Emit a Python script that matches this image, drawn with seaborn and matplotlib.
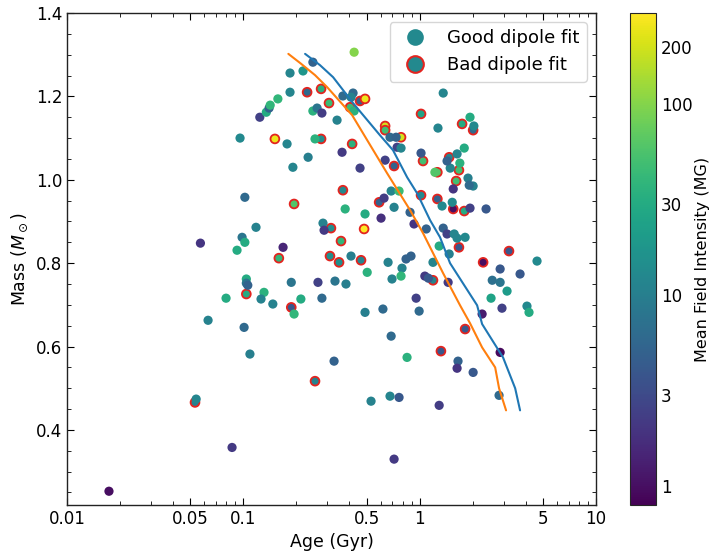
import numpy as np
import pandas as pd
import matplotlib
matplotlib.use("Agg")
import matplotlib.pyplot as plt
from matplotlib.colors import LogNorm
from matplotlib.lines import Line2D
from matplotlib.ticker import FixedLocator, FixedFormatter, LogLocator, NullFormatter
import seaborn as sns

# ---------------- data ----------------
good_age = [0.0173, 0.0863, 0.0540, 0.0631, 0.101, 0.109, 0.0798, 0.104, 0.104, 0.106,
            0.131, 0.126, 0.147, 0.187, 0.194, 0.212, 0.265, 0.331, 0.382, 0.279,
            0.490, 0.619, 0.955, 0.993, 0.689, 0.327, 0.848, 1.65, 1.63, 2.01,
            0.530, 0.679, 0.764, 1.29, 0.716, 2.82, 2.86, 2.26, 2.93, 4.06,
            4.17, 2.54, 3.13, 2.58, 2.86, 3.71, 2.86, 4.63, 1.47, 1.29,
            1.36, 1.43, 1.57, 1.63, 1.81, 1.09, 0.929, 0.604, 0.490, 0.378,
            0.283, 0.287, 0.408, 0.504, 0.662, 0.837, 0.893, 0.794, 0.697, 0.784,
            1.19, 1.07, 1.12, 1.45, 0.118, 0.0984, 0.102, 0.0571, 0.0921, 0.168,
            0.102, 0.191, 0.233, 0.0958, 0.177, 0.124, 0.135, 0.140, 0.142, 0.157,
            0.184, 0.184, 0.218, 0.248, 0.425, 0.248, 0.262, 0.279, 0.340, 0.367,
            0.419, 0.408, 0.425, 0.255, 0.363, 0.459, 0.679, 0.735, 0.745, 0.784,
            0.637, 1.36, 1.27, 1.018, 1.22, 0.628, 0.689, 0.764, 0.716, 0.882,
            1.34, 1.53, 1.93, 2.38, 1.55, 1.88, 2.01, 1.91, 1.69, 1.49,
            1.43, 1.63, 1.79, 1.93, 2.03]
good_mass = [0.253, 0.358, 0.474, 0.663, 0.646, 0.582, 0.716, 0.762, 0.752, 0.747,
             0.730, 0.714, 0.702, 0.754, 0.678, 0.714, 0.754, 0.757, 0.750, 0.716,
             0.682, 0.690, 0.716, 0.685, 0.625, 0.565, 0.574, 0.565, 0.548, 0.538,
             0.469, 0.481, 0.478, 0.459, 0.330, 0.483, 0.586, 0.678, 0.692, 0.697,
             0.682, 0.716, 0.733, 0.759, 0.754, 0.774, 0.786, 0.805, 0.822, 0.841,
             0.884, 0.870, 0.870, 0.860, 0.862, 0.882, 0.894, 0.908, 0.918, 0.930,
             0.896, 0.879, 0.817, 0.778, 0.802, 0.810, 0.817, 0.788, 0.762, 0.769,
             0.802, 0.769, 0.764, 0.754, 0.886, 0.862, 0.850, 0.848, 0.831, 0.838,
             0.958, 1.030, 1.054, 1.100, 1.086, 1.150, 1.162, 1.172, 1.179, 1.194,
             1.210, 1.256, 1.261, 1.282, 1.306, 1.165, 1.172, 1.160, 1.143, 1.201,
             1.208, 1.198, 1.165, 1.098, 1.066, 1.028, 1.102, 1.102, 1.078, 1.076,
             1.047, 1.208, 1.124, 1.064, 1.018, 0.956, 0.973, 0.973, 0.934, 0.922,
             0.937, 0.946, 0.932, 0.930, 0.978, 1.004, 0.985, 0.987, 1.040, 1.028,
             1.045, 1.062, 1.076, 1.150, 1.129]
good_field = [1.0, 2.2, 12, 11, 6, 10, 30, 30, 8, 5,
              35, 11, 11, 8, 40, 30, 2.5, 8, 10, 6,
              10, 6, 2.5, 6, 6, 5, 35, 5, 2, 4,
              11, 12, 4, 2.3, 2.2, 6, 0.9, 1.3, 2.5, 13,
              30, 25, 20, 7, 8, 4, 4, 13, 10, 30,
              5, 2.5, 12, 12, 13, 5, 2, 1.8, 30, 35,
              11, 2.2, 10, 35, 11, 5, 5, 11, 11, 40,
              12, 2.2, 4, 2.2, 11, 8, 30, 2, 30, 1.5,
              6, 12, 10, 13, 12, 2.5, 30, 5, 40, 40,
              12, 12, 18, 5, 100, 35, 8, 2.3, 11, 6,
              6, 11, 35, 35, 2.2, 2.5, 6, 5, 2.5, 12,
              2.5, 12, 12, 4, 60, 2.3, 12, 45, 11, 5,
              13, 13, 2.5, 4, 2, 10, 11, 6, 35, 12,
              5, 12, 30, 30, 13]

bad_age = [0.0532, 0.104, 0.187, 0.255, 1.32, 1.81, 2.29, 3.21, 1.67, 0.484,
           0.314, 0.358, 0.310, 0.349, 0.465, 1.19, 0.159, 0.194, 0.151, 0.230,
           0.276, 0.306, 0.403, 0.459, 0.490, 0.276, 0.414, 0.637, 0.637, 0.784,
           0.716, 1.018, 1.045, 1.26, 0.367, 0.589, 1.018, 1.26, 1.55, 1.79,
           1.61, 1.67, 1.47, 1.74, 2.01]
bad_mass = [0.466, 0.726, 0.694, 0.517, 0.589, 0.642, 0.802, 0.829, 0.838, 0.882,
            0.884, 0.853, 0.817, 0.802, 0.807, 0.759, 0.812, 0.942, 1.098, 1.210,
            1.218, 1.184, 1.174, 1.189, 1.194, 1.098, 1.086, 1.129, 1.119, 1.102,
            1.033, 1.158, 1.045, 1.018, 0.975, 0.946, 0.963, 0.954, 0.930, 0.925,
            0.997, 1.023, 1.054, 1.134, 1.119]
bad_field = [10, 30, 4, 11, 4, 4, 1.0, 4, 4, 300,
             15, 40, 15, 15, 12, 12, 40, 60, 250, 6,
             35, 45, 45, 5, 250, 15, 35, 200, 50, 200,
             5, 25, 50, 60, 13, 5, 13, 5, 1.0, 30,
             50, 50, 12, 30, 6]

track1_age = [0.224, 0.272, 0.323, 0.419, 0.595, 0.706, 0.849, 0.966, 1.146, 1.305,
              1.487, 2.117, 2.26, 2.97, 3.48, 3.71]
track1_mass = [1.302, 1.275, 1.246, 1.184, 1.107, 1.071, 1.006, 0.968, 0.903, 0.862,
               0.800, 0.699, 0.654, 0.574, 0.500, 0.447]
track2_age = [0.180, 0.210, 0.255, 0.299, 0.414, 0.504, 0.653, 0.883, 1.045, 1.358,
              1.694, 1.93, 2.26, 2.68, 2.82, 3.09]
track2_mass = [1.302, 1.280, 1.251, 1.222, 1.155, 1.095, 1.016, 0.927, 0.872, 0.776,
               0.699, 0.656, 0.598, 0.550, 0.500, 0.447]

xtick_vals = [0.01, 0.05, 0.1, 0.5, 1, 5, 10]
xtick_labels = ["0.01", "0.05", "0.1", "0.5", "1", "5", "10"]
cbar_ticks = [1, 3, 10, 30, 100, 200]
cbar_labels = ["1", "3", "10", "30", "100", "200"]

good_df = pd.DataFrame({"age": good_age, "mass": good_mass, "field": good_field})
bad_df = pd.DataFrame({"age": bad_age, "mass": bad_mass, "field": bad_field})

# ---------------- plot ----------------
sns.set_style("ticks")
plt.rcParams["font.family"] = ["DejaVu Sans"]
plt.rcParams["text.color"] = "black"
plt.rcParams["axes.labelcolor"] = "black"
plt.rcParams["xtick.color"] = "black"
plt.rcParams["ytick.color"] = "black"

W, H = 713, 556
fig = plt.figure(figsize=(W / 100, H / 100), dpi=100)
ax = fig.add_axes([67 / W, (H - 505) / H, 529 / W, 492 / H])
cax = fig.add_axes([630 / W, (H - 505) / H, 26 / W, 492 / H])

norm = LogNorm(vmin=0.8, vmax=300)
cmap = plt.get_cmap("viridis")
ax.set_xscale("log")

sns.scatterplot(data=bad_df, x="age", y="mass", hue="field", hue_norm=norm,
                palette="viridis", s=40, edgecolor="#e3241f", linewidth=1.3,
                legend=False, ax=ax, zorder=1)
sns.scatterplot(data=good_df, x="age", y="mass", hue="field", hue_norm=norm,
                palette="viridis", s=44, linewidth=0, legend=False, ax=ax, zorder=1)

ax.plot(track1_age, track1_mass, color="#1f77b4", lw=1.5, zorder=2)
ax.plot(track2_age, track2_mass, color="#ff7f0e", lw=1.5, zorder=2)

ax.set_xlim(0.01, 10)
ax.set_ylim(0.22, 1.4)
ax.xaxis.set_major_locator(FixedLocator(xtick_vals))
ax.xaxis.set_major_formatter(FixedFormatter(xtick_labels))
ax.xaxis.set_minor_locator(LogLocator(base=10, subs=np.arange(2, 10)))
ax.xaxis.set_minor_formatter(NullFormatter())
ax.set_yticks([0.4, 0.6, 0.8, 1.0, 1.2, 1.4])
ax.set_yticks(np.arange(0.25, 1.401, 0.05), minor=True)
ax.tick_params(which="both", direction="in", top=True, right=True, labelsize=12)
ax.tick_params(which="major", length=5)
ax.tick_params(which="minor", length=3)
for sp in ax.spines.values():
    sp.set_visible(True)
    sp.set_linewidth(1.0)
    sp.set_color("#222222")

ax.set_xlabel("Age (Gyr)", fontsize=12.5)
ax.set_ylabel(r"Mass ($M_\odot$)", fontsize=12.5)

teal = cmap(norm(13))
handles = [
    Line2D([0], [0], marker="o", linestyle="none", markersize=12,
           markerfacecolor=teal, markeredgecolor=teal, markeredgewidth=0),
    Line2D([0], [0], marker="o", linestyle="none", markersize=12,
           markerfacecolor=teal, markeredgecolor="#e3241f", markeredgewidth=1.5),
]
ax.legend(handles, ["Good dipole fit", "Bad dipole fit"], loc="upper right",
          fontsize=13, frameon=True, handletextpad=0.8)

sm = plt.cm.ScalarMappable(norm=norm, cmap=cmap)
sm.set_array([])
cb = fig.colorbar(sm, cax=cax)
cb.set_ticks(cbar_ticks)
cb.set_ticklabels(cbar_labels)
cb.ax.tick_params(which="both", direction="in", labelsize=12)
cb.ax.tick_params(which="major", length=5)
cb.ax.tick_params(which="minor", length=3)
cb.set_label("Mean Field Intensity (MG)", fontsize=11.5, labelpad=2)

fig.savefig("out.png", dpi=100)
